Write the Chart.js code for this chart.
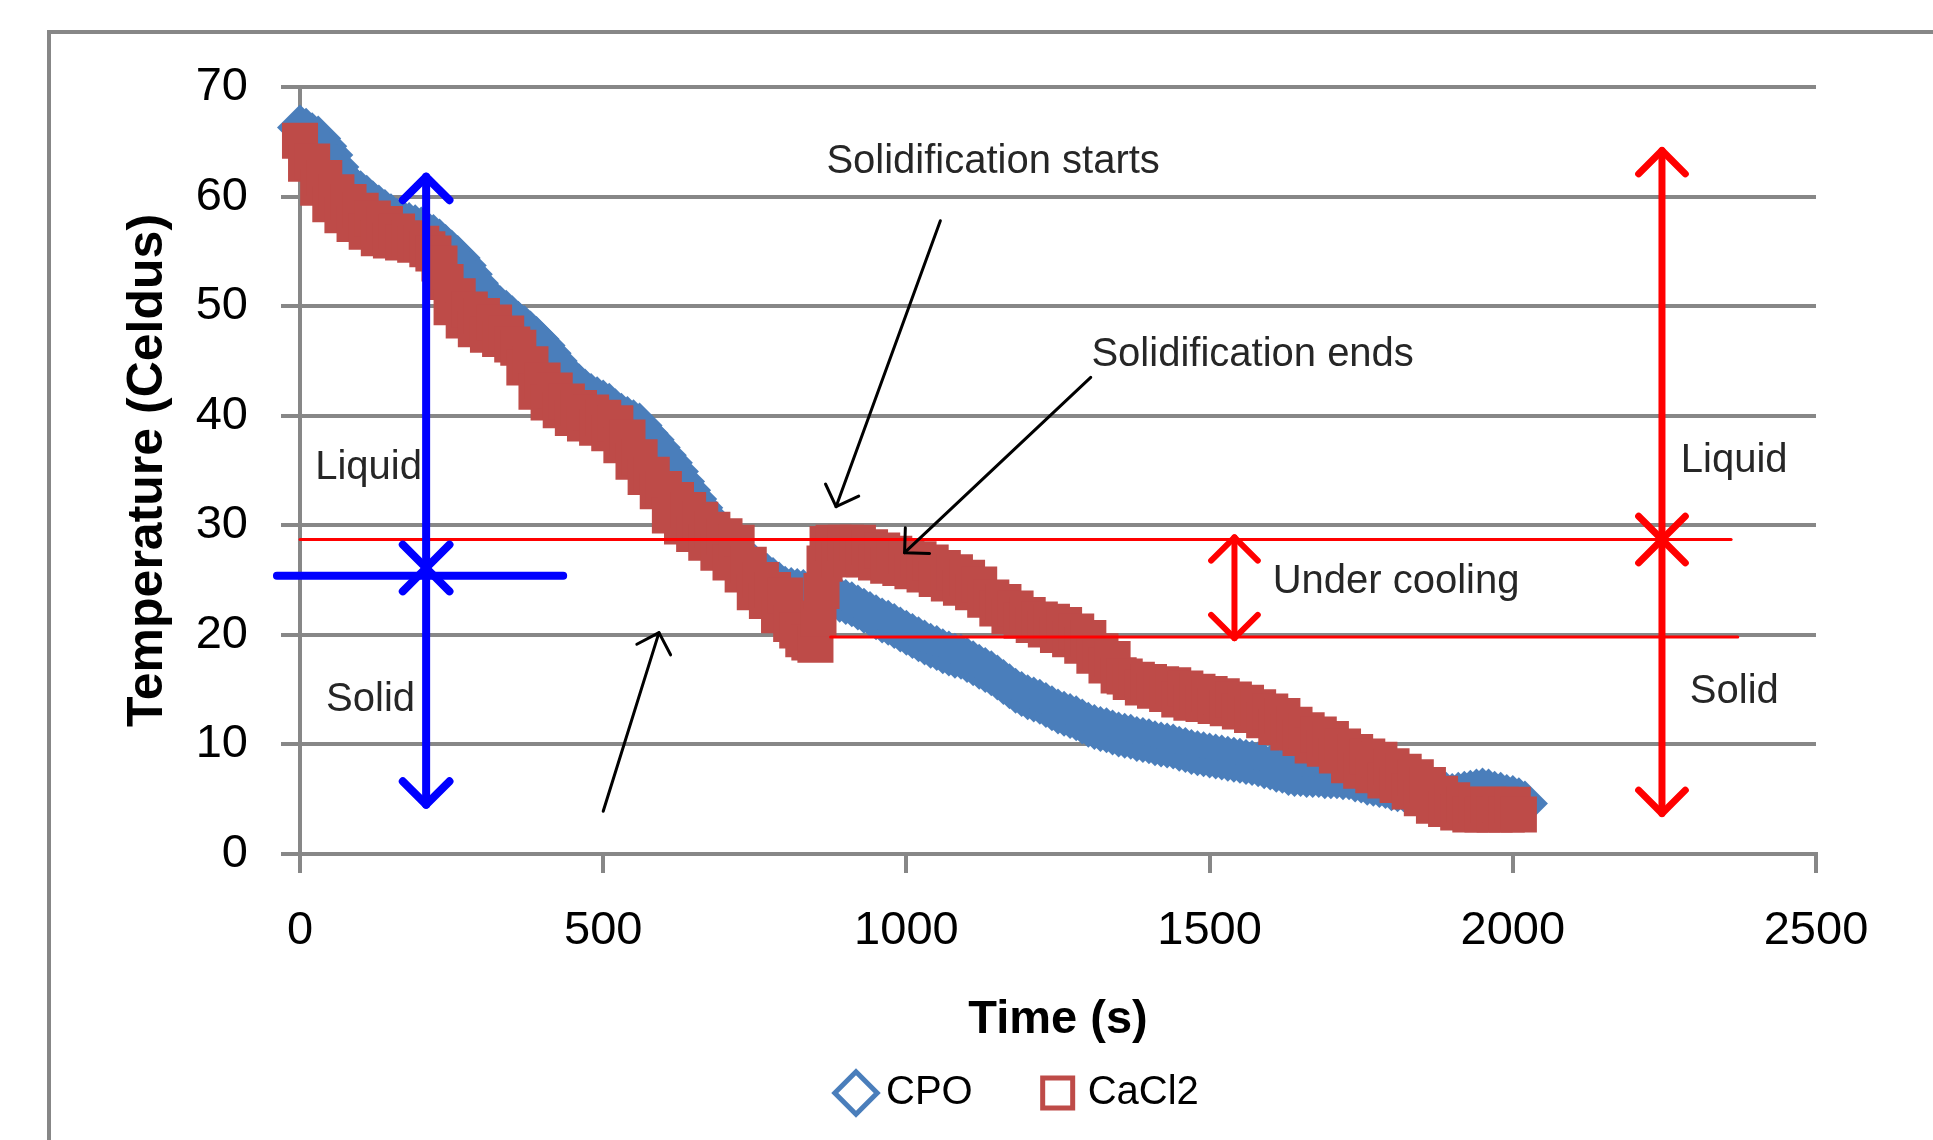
<!DOCTYPE html>
<html>
<head>
<meta charset="utf-8">
<title>Cooling curves CPO / CaCl2</title>
<script src="https://cdn.jsdelivr.net/npm/chart.js@4.4.1/dist/chart.umd.min.js"></script>
<style>
  html, body { margin: 0; padding: 0; background: #ffffff; }
  #wrap { width: 1933px; height: 1140px; }
</style>
</head>
<body>
<div id="wrap"><canvas id="coolingChart" width="1933" height="1140"></canvas></div>
<script>
// values (time in s, temperature in Celsius)
const cpoTime = [
  0, 10, 20, 30, 40, 50, 60, 70, 80, 90,
  100, 110, 120, 130, 140, 150, 160, 170, 180, 190,
  200, 210, 220, 230, 240, 250, 260, 270, 280, 290,
  300, 310, 320, 330, 340, 350, 360, 370, 380, 390,
  400, 410, 420, 430, 440, 450, 460, 470, 480, 490,
  500, 510, 520, 530, 540, 550, 560, 570, 580, 590,
  600, 610, 620, 630, 640, 650, 660, 670, 680, 690,
  700, 710, 720, 730, 740, 750, 760, 770, 780, 790,
  800, 810, 820, 830, 840, 850, 860, 870, 880, 890,
  900, 910, 920, 930, 940, 950, 960, 970, 980, 990,
  1000, 1010, 1020, 1030, 1040, 1050, 1060, 1070, 1080, 1090,
  1100, 1110, 1120, 1130, 1140, 1150, 1160, 1170, 1180, 1190,
  1200, 1210, 1220, 1230, 1240, 1250, 1260, 1270, 1280, 1290,
  1300, 1310, 1320, 1330, 1340, 1350, 1360, 1370, 1380, 1390,
  1400, 1410, 1420, 1430, 1440, 1450, 1460, 1470, 1480, 1490,
  1500, 1510, 1520, 1530, 1540, 1550, 1560, 1570, 1580, 1590,
  1600, 1610, 1620, 1630, 1640, 1650, 1660, 1670, 1680, 1690,
  1700, 1710, 1720, 1730, 1740, 1750, 1760, 1770, 1780, 1790,
  1800, 1810, 1820, 1830, 1840, 1850, 1860, 1870, 1880, 1890,
  1900, 1910, 1920, 1930, 1940, 1950, 1960, 1970, 1980, 1990,
  2000, 2010, 2020
];
const cpoTemp = [
  66.3, 66.0, 65.6, 65.3, 64.6, 63.8, 62.7, 61.7, 61.2, 60.7,
  60.3, 59.9, 59.4, 59.0, 58.6, 58.2, 57.8, 57.6, 57.4, 57.2,
  57.0, 56.6, 56.3, 55.9, 55.4, 54.9, 54.4, 53.7, 52.9, 52.1,
  51.3, 50.8, 50.3, 49.8, 49.4, 48.9, 48.4, 48.0, 47.5, 47.0,
  46.4, 45.7, 45.0, 44.3, 43.7, 43.1, 42.7, 42.2, 41.8, 41.5,
  41.2, 40.9, 40.4, 40.0, 39.7, 39.4, 39.1, 38.4, 37.8, 37.1,
  36.4, 35.7, 34.9, 34.0, 33.2, 32.4, 31.6, 30.8, 30.0, 29.3,
  28.7, 28.2, 27.7, 27.2, 26.7, 26.2, 25.8, 25.4, 25.0, 24.6,
  24.2, 24.1, 24.0, 23.9, 23.8, 23.6, 23.5, 23.4, 23.3, 23.2,
  23.0, 22.8, 22.5, 22.2, 21.9, 21.6, 21.3, 21.1, 20.8, 20.5,
  20.2, 19.9, 19.6, 19.3, 19.0, 18.8, 18.5, 18.3, 18.1, 18.0,
  17.7, 17.4, 17.1, 16.8, 16.5, 16.1, 15.7, 15.3, 14.9, 14.6,
  14.3, 14.1, 13.9, 13.6, 13.3, 13.0, 12.8, 12.6, 12.4, 12.1,
  11.8, 11.6, 11.4, 11.3, 11.1, 10.9, 10.8, 10.7, 10.5, 10.4,
  10.3, 10.1, 10.0, 9.9, 9.8, 9.6, 9.5, 9.3, 9.2, 9.1,
  9.0, 8.9, 8.8, 8.7, 8.6, 8.5, 8.4, 8.3, 8.2, 8.0,
  7.9, 7.7, 7.6, 7.4, 7.3, 7.3, 7.2, 7.2, 7.2, 7.1,
  7.1, 7.1, 7.0, 7.0, 6.8, 6.7, 6.5, 6.4, 6.3, 6.2,
  6.0, 5.9, 5.9, 5.8, 5.8, 5.7, 5.6, 5.6, 5.5, 5.4,
  5.3, 5.4, 5.5, 5.6, 5.7, 5.8, 5.7, 5.5, 5.4, 5.2,
  5.1, 4.9, 4.6
];

const cacl2Time = [
  0, 10, 20, 30, 40, 50, 60, 70, 80, 90,
  100, 110, 120, 130, 140, 150, 160, 170, 180, 190,
  200, 210, 220, 230, 240, 250, 260, 270, 280, 290,
  300, 310, 320, 330, 340, 350, 360, 370, 380, 390,
  400, 410, 420, 430, 440, 450, 460, 470, 480, 490,
  500, 510, 520, 530, 540, 550, 560, 570, 580, 590,
  600, 610, 620, 630, 640, 650, 660, 670, 680, 690,
  700, 710, 720, 730, 740, 750, 760, 770, 780, 790,
  800, 810, 820, 830, 840, 850, 855, 860, 865, 870,
  880, 890, 900, 910, 920, 930, 940, 950, 960, 970, 980, 990,
  1000, 1010, 1020, 1030, 1040, 1050, 1060, 1070, 1080, 1090,
  1100, 1110, 1120, 1130, 1140, 1150, 1160, 1170, 1180, 1190,
  1200, 1210, 1220, 1230, 1240, 1250, 1260, 1270, 1280, 1290,
  1300, 1310, 1320, 1330, 1340, 1350, 1360, 1370, 1380, 1390,
  1400, 1410, 1420, 1430, 1440, 1450, 1460, 1470, 1480, 1490,
  1500, 1510, 1520, 1530, 1540, 1550, 1560, 1570, 1580, 1590,
  1600, 1610, 1620, 1630, 1640, 1650, 1660, 1670, 1680, 1690,
  1700, 1710, 1720, 1730, 1740, 1750, 1760, 1770, 1780, 1790,
  1800, 1810, 1820, 1830, 1840, 1850, 1860, 1870, 1880, 1890,
  1900, 1910, 1920, 1930, 1940, 1950, 1960, 1970, 1980, 1990,
  2000, 2010
];
const cacl2Temp = [
  65.1, 63.0, 63.2, 60.8, 61.7, 59.3, 60.4, 58.3, 59.5, 57.5,
  58.7, 56.8, 58.0, 56.2, 57.5, 56.0, 56.8, 55.8, 56.2, 55.6,
  55.7, 55.2, 54.8, 53.9, 52.2, 49.9, 50.9, 48.7, 49.7, 47.9,
  49.1, 47.4, 48.5, 47.0, 47.5, 46.5, 46.2, 44.4, 44.7, 42.2,
  43.2, 41.2, 42.3, 40.5, 41.3, 39.8, 40.7, 39.3, 40.3, 38.9,
  39.8, 38.4, 39.3, 37.3, 38.0, 35.8, 36.2, 34.4, 34.6, 33.1,
  33.3, 30.9, 32.3, 29.9, 31.4, 29.2, 30.5, 28.4, 29.6, 27.5,
  29.0, 26.6, 28.4, 25.5, 26.4, 23.9, 25.0, 23.1, 24.1, 21.8,
  23.6, 21.0, 20.4, 19.6, 19.3, 19.1, 21.5, 24.0, 26.5, 28.3,
  28.4, 26.9, 28.4, 26.9, 28.4, 26.9, 28.0, 26.6, 27.7, 26.3, 27.4, 26.1,
  27.2, 25.8, 26.9, 25.5, 26.6, 25.1, 26.1, 24.7, 25.7, 24.3,
  25.2, 23.9, 24.6, 23.2, 23.4, 22.4, 23.0, 21.7, 22.4, 21.3,
  21.8, 20.9, 21.4, 20.5, 21.2, 20.0, 20.9, 19.6, 20.3, 19.0,
  19.7, 18.1, 18.5, 17.2, 17.8, 16.3, 16.2, 15.7, 15.9, 15.2,
  15.7, 14.9, 15.5, 14.6, 15.4, 14.1, 15.1, 13.8, 14.8, 13.7,
  14.6, 13.5, 14.4, 13.3, 14.1, 13.0, 13.8, 12.7, 13.4, 12.2,
  13.0, 11.6, 12.6, 11.1, 11.8, 10.6, 11.3, 9.9, 10.9, 9.6,
  10.5, 9.0, 9.8, 8.1, 9.3, 7.6, 8.9, 7.2, 8.6, 6.7,
  8.0, 6.3, 7.5, 5.7, 7.0, 5.1, 6.3, 4.4, 5.5, 4.1,
  4.9, 3.8, 4.5, 3.6, 4.5, 3.6, 4.5, 3.6, 4.5, 3.6,
  4.5, 3.6
];

const timeTicks = [0, 500, 1000, 1500, 2000, 2500];
const tempTicks = [0, 10, 20, 30, 40, 50, 60, 70];

// annotations, in data units (time, temperature)
const noteLabels = [
  { text: "Solidification starts", t: 1143, v: 63.2, align: "center" },
  { text: "Solidification ends", t: 1571, v: 45.5, align: "center" },
  { text: "Under cooling", t: 1604, v: 24.8, align: "left" },
  { text: "Liquid", t: 25, v: 35.2, align: "left" },
  { text: "Solid", t: 43, v: 14.05, align: "left" },
  { text: "Liquid", t: 2277, v: 35.9, align: "left" },
  { text: "Solid", t: 2292, v: 14.8, align: "left" },
];
const pointerArrows = [
  { from: [1056, 57.8], to: [884, 31.7] },
  { from: [1304, 43.5], to: [997, 27.5] },
  { from: [500, 3.9], to: [592, 20.2] },
];
const phaseLines = [
  { v: 28.7, t0: 0, t1: 2360, color: "#ff0000", width: 3 },
  { v: 19.8, t0: 875, t1: 2371, color: "#ff0000", width: 3 },
  { v: 25.4, t0: -38, t1: 434, color: "#0000ff", width: 8 },
];
const phaseArrows = [
  { t: 208, top: 61.8, bottom: 4.5, mid: 26.1, color: "#0000ff", width: 8 },
  { t: 2246, top: 64.2, bottom: 3.7, mid: 28.7, color: "#ff0000", width: 7 },
  { t: 1541, top: 28.9, bottom: 19.7, mid: null, color: "#ff0000", width: 6 },
];

const FONT = '"Liberation Sans", Arial, sans-serif';
const GRID = "#878787";
const CPO_COLOR = "#4a7ebb";
const CACL2_COLOR = "#be4b48";

function chevron(ctx, x, y, ux, uy, len) {
  // (ux, uy) points from the tip back along the shaft
  const c = Math.SQRT1_2;
  ctx.beginPath();
  ctx.moveTo(x + c * (ux - uy) * len, y + c * (ux + uy) * len);
  ctx.lineTo(x, y);
  ctx.lineTo(x + c * (ux + uy) * len, y + c * (uy - ux) * len);
  ctx.stroke();
}

const framePlugin = {
  id: "frame",
  beforeDraw(chart) {
    const ctx = chart.ctx;
    ctx.save();
    ctx.strokeStyle = GRID;
    ctx.lineWidth = 4;
    ctx.beginPath();
    ctx.moveTo(49, chart.height);
    ctx.lineTo(49, 32);
    ctx.lineTo(chart.width, 32);
    ctx.stroke();
    ctx.restore();
  },
  afterLayout(chart) {
    // place the legend under the axis title, like the original
    const lg = chart.legend;
    if (!lg) return;
    lg.left = 771;
    lg.right = chart.width;
    lg.top -= 17;
    lg.bottom -= 17;
  },
};

const notesPlugin = {
  id: "notes",
  afterDatasetsDraw(chart) {
    const { ctx, scales } = chart;
    const px = (t) => scales.x.getPixelForValue(t);
    const py = (v) => scales.y.getPixelForValue(v);
    ctx.save();

    ctx.font = "40px " + FONT;
    ctx.fillStyle = "#262626";
    ctx.textBaseline = "middle";
    noteLabels.forEach((n) => {
      ctx.textAlign = n.align;
      ctx.fillText(n.text, px(n.t), py(n.v));
    });

    ctx.lineCap = "round";
    ctx.lineJoin = "round";

    phaseLines.forEach((l) => {
      ctx.strokeStyle = l.color;
      ctx.lineWidth = l.width;
      ctx.beginPath();
      ctx.moveTo(px(l.t0), py(l.v));
      ctx.lineTo(px(l.t1), py(l.v));
      ctx.stroke();
    });

    phaseArrows.forEach((a) => {
      const x = px(a.t);
      const yTop = py(a.top);
      const yBot = py(a.bottom);
      ctx.strokeStyle = a.color;
      ctx.lineWidth = a.width;
      ctx.beginPath();
      ctx.moveTo(x, yTop);
      ctx.lineTo(x, yBot);
      ctx.stroke();
      chevron(ctx, x, yTop, 0, 1, 33);
      chevron(ctx, x, yBot, 0, -1, 33);
      if (a.mid !== null) {
        const yMid = py(a.mid);
        chevron(ctx, x, yMid, 0, -1, 33);
        chevron(ctx, x, yMid, 0, 1, 33);
      }
    });

    ctx.strokeStyle = "#000000";
    ctx.lineWidth = 3;
    pointerArrows.forEach((a) => {
      const x0 = px(a.from[0]), y0 = py(a.from[1]);
      const x1 = px(a.to[0]), y1 = py(a.to[1]);
      ctx.beginPath();
      ctx.moveTo(x0, y0);
      ctx.lineTo(x1, y1);
      ctx.stroke();
      const len = Math.hypot(x0 - x1, y0 - y1);
      chevron(ctx, x1, y1, (x0 - x1) / len, (y0 - y1) / len, 25);
    });

    ctx.restore();
  },
};

const canvas = document.getElementById("coolingChart");

new Chart(canvas, {
  type: "scatter",
  data: {
    datasets: [
      {
        label: "CPO",
        data: cpoTime.map((t, i) => ({ x: t, y: cpoTemp[i] })),
        pointStyle: "rectRot",
        pointRadius: 23,
        pointHoverRadius: 23,
        pointBackgroundColor: CPO_COLOR,
        pointBorderColor: CPO_COLOR,
        pointBorderWidth: 0,
        clip: false,
        order: 1,
      },
      {
        label: "CaCl2",
        data: cacl2Time.map((t, i) => ({ x: t, y: cacl2Temp[i] })),
        pointStyle: "rect",
        pointRadius: 25.5,
        pointHoverRadius: 25.5,
        pointBackgroundColor: CACL2_COLOR,
        pointBorderColor: CACL2_COLOR,
        pointBorderWidth: 0,
        clip: false,
        order: 0,
      },
    ],
  },
  options: {
    responsive: false,
    animation: false,
    devicePixelRatio: 1,
    layout: { padding: { left: 0, top: 87, right: 117, bottom: 0 } },
    scales: {
      x: {
        type: "linear",
        min: 0,
        max: 2500,
        afterBuildTicks: (scale) => {
          scale.ticks = timeTicks.map((v) => ({ value: v }));
        },
        afterFit: (scale) => {
          scale.height = 161;
        },
        ticks: {
          color: "#000000",
          font: { family: FONT, size: 47 },
          padding: 30,
          maxRotation: 0,
          callback: (value) => String(value),
        },
        grid: {
          drawOnChartArea: false,
          drawTicks: true,
          tickLength: 19,
          color: GRID,
          lineWidth: 4,
        },
        border: { display: true, color: GRID, width: 4 },
        title: {
          display: true,
          text: "Time (s)",
          color: "#000000",
          font: { family: FONT, size: 47, weight: "bold" },
          padding: { top: 0, bottom: -33 },
        },
      },
      y: {
        type: "linear",
        min: 0,
        max: 70,
        afterBuildTicks: (scale) => {
          scale.ticks = tempTicks.map((v) => ({ value: v }));
        },
        afterFit: (scale) => {
          scale.width = 300;
        },
        ticks: {
          color: "#000000",
          font: { family: FONT, size: 47 },
          padding: 33,
          callback: (value) => String(value),
        },
        grid: {
          drawTicks: true,
          tickLength: 19,
          color: GRID,
          lineWidth: 4,
        },
        border: { display: true, color: GRID, width: 4 },
        title: {
          display: true,
          text: "Temperature (Celdus)",
          color: "#000000",
          font: { family: FONT, size: 50, weight: "bold" },
          padding: { top: 118, bottom: 0 },
        },
      },
    },
    plugins: {
      tooltip: { enabled: false },
      legend: {
        position: "bottom",
        align: "start",
        labels: {
          usePointStyle: true,
          boxWidth: 20,
          boxHeight: 30,
          padding: 75,
          color: "#000000",
          font: { family: FONT, size: 40 },
          generateLabels: function (chart) {
            const items = Chart.defaults.plugins.legend.labels.generateLabels(chart);
            items.sort((a, b) => a.datasetIndex - b.datasetIndex);
            items.forEach((it) => {
              it.fillStyle = "#ffffff";
              it.lineWidth = 5;
            });
            return items;
          },
        },
      },
    },
  },
  plugins: [framePlugin, notesPlugin],
});
</script>
</body>
</html>
